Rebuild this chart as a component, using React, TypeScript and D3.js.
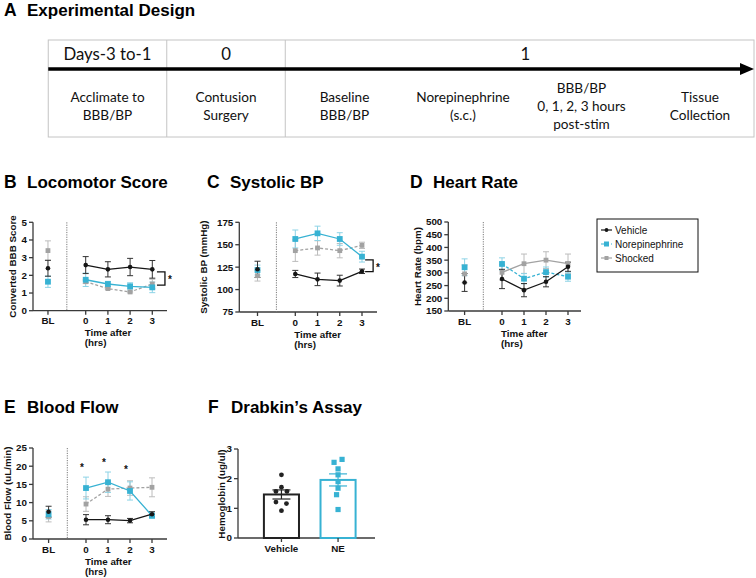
import React from 'react';
import * as d3 from 'd3';

const FONT = "'Liberation Sans', Arial, Helvetica, sans-serif";
const TL_FONT = "Lato, 'Open Sans', sans-serif";

const BLUE = '#37b2d3';
const BLUE_ERR = '#8dd3e6';
const GRAY = '#a2a2a2';
const GRAY_ERR = '#bcbcbc';
const BLACK = '#161616';
const AXIS = '#3a3a3a';

// ---------- Panel A: timeline ----------
const TL_HEADERS = ['Days-3 to-1', '0', '1'];
const TL_STEPS = [
  ['Acclimate to', 'BBB/BP'],
  ['Contusion', 'Surgery'],
  ['Baseline', 'BBB/BP'],
  ['Norepinephrine', '(s.c.)'],
  ['BBB/BP', '0, 1, 2, 3 hours', 'post-stim'],
  ['Tissue', 'Collection'],
];
// which steps each header column covers
const TL_HEADER_SPANS = [[0, 0], [1, 1], [2, 5]];

// ---------- Shared ----------
const SERIES_NAMES = ['Vehicle', 'Norepinephrine', 'Shocked'];
const TIME_LABELS = ['BL', '0', '1', '2', '3'];
const TIME_VALUES = [-1.7, 0, 1, 2, 3];

// ---------- Panel B: Locomotor score ----------
const LOCO_VEH = [2.40, 2.58, 2.34, 2.47, 2.34];
const LOCO_VEH_ERR = [0.45, 0.48, 0.43, 0.49, 0.50];
const LOCO_NE = [1.64, 1.75, 1.51, 1.38, 1.32];
const LOCO_NE_ERR = [0.32, 0.38, 0.15, 0.2, 0.3];
const LOCO_SHK = [3.40, 1.64, 1.25, 1.06, 1.51];
const LOCO_SHK_ERR = [0.55, 0.1, 0.05, 0.05, 0.27];
const LOCO_TICKS = [0, 1, 2, 3, 4, 5];
const LOCO_BRACKET = [2.2, 1.45];

// ---------- Panel C: Systolic BP ----------
const SBP_VEH = [122.6, 117.4, 111.4, 110.0, 120.4];
const SBP_VEH_ERR = [9, 4, 7, 6, 2.5];
const SBP_NE = [121.8, 156.4, 162.7, 156.4, 136.7];
const SBP_NE_ERR = [5.5, 10, 8, 7, 6];
const SBP_SHK = [115.5, 143.4, 146.4, 143.4, 149.3];
const SBP_SHK_ERR = [6, 12, 8, 8, 3.5];
const SBP_TICKS = [75, 100, 125, 150, 175];
const SBP_BRACKET = [133, 120];

// ---------- Panel D: Heart rate ----------
const HR_VEH = [262, 276, 232, 265, 324];
const HR_VEH_ERR = [35, 38, 26, 20, 18];
const HR_NE = [322, 335, 277, 303, 285];
const HR_NE_ERR = [33, 24, 20, 20, 18];
const HR_SHK = [296, 302, 336, 350, 336];
const HR_SHK_ERR = [35, 30, 38, 33, 38];
const HR_TICKS = [150, 200, 250, 300, 350, 400, 450, 500];

// ---------- Panel E: Blood flow ----------
const BF_VEH = [7.5, 5.3, 5.3, 5.05, 6.8];
const BF_VEH_ERR = [1.5, 1.4, 1.1, 0.6, 0.7];
const BF_NE = [6.8, 14.0, 15.6, 13.2, 6.4];
const BF_NE_ERR = [1.3, 3.0, 2.8, 2.5, 0.7];
const BF_SHK = [6.2, 9.6, 13.7, 14.0, 14.2];
const BF_SHK_ERR = [1.5, 2, 2, 2, 2.6];
const BF_TICKS = [0, 5, 10, 15, 20, 25];
const BF_STARS = [{ t: 0, v: 20 }, { t: 1, v: 21.3 }, { t: 2, v: 19.5 }];

// ---------- Panel F: Drabkin's assay ----------
const HB_GROUPS = ['Vehicle', 'NE'];
const HB_VEH = [2.13, 1.71, 1.57, 1.57, 1.21, 1.16, 0.92];
const HB_NE = [2.55, 2.65, 2.33, 2.13, 1.90, 1.68, 1.46, 0.96];
const HB_TICKS = [0, 1, 2, 3];
// horizontal jitter (layout only, px)
const HB_VEH_JITTER = [0, 0, -5.5, 5.5, -5.5, 5, 0];
const HB_NE_JITTER = [-4, 4, 0, 0, 0, 0, -1.5, 0];

type Series = {
  values: number[]; err: number[]; color: string; errColor: string;
  dash?: string; marker: 'circle' | 'square'; size: number;
};

function mkSeries(v: number[], e: number[], kind: 'veh' | 'ne' | 'shk', dashed: boolean): Series {
  if (kind === 'veh') return { values: v, err: e, color: BLACK, errColor: '#333', marker: 'circle', size: 4.6 };
  if (kind === 'ne') return { values: v, err: e, color: BLUE, errColor: BLUE_ERR, marker: 'square', size: 5.8, dash: dashed ? '3,2' : undefined };
  return { values: v, err: e, color: GRAY, errColor: GRAY_ERR, marker: 'square', size: 4.8, dash: dashed ? '3,2' : undefined };
}

function Marker({ kind, x, y, size, color }: any) {
  if (kind === 'circle') return <circle cx={x} cy={y} r={size / 2} fill={color} />;
  return <rect x={x - size / 2} y={y - size / 2} width={size} height={size} fill={color} />;
}

function PanelTitle({ x, y, letter, text }: any) {
  return (
    <g fontFamily={FONT} fontWeight="bold" fill="#000">
      <text x={x} y={y} fontSize={17.5}>{letter}</text>
      <text x={x + 23} y={y} fontSize={17}>{text}</text>
    </g>
  );
}

function YTitle({ x, y, text }: any) {
  return (
    <text transform={`translate(${x},${y}) rotate(-90)`} textAnchor="middle"
      fontFamily={FONT} fontWeight="bold" fontSize={9.8} fill="#111">{text}</text>
  );
}

function YAxis({ y, ticks, axisX }: any) {
  const [d0, d1] = y.domain();
  return (
    <g>
      <line x1={axisX} x2={axisX} y1={y(d0)} y2={y(d1)} stroke={AXIS} strokeWidth={1.3} />
      {ticks.map((t: number) => (
        <g key={t}>
          <line x1={axisX - 4} x2={axisX} y1={y(t)} y2={y(t)} stroke={AXIS} strokeWidth={1.3} />
          <text x={axisX - 6} y={y(t)} dy="0.35em" textAnchor="end" fontFamily={FONT}
            fontWeight="bold" fontSize={9.8} fill="#111">{t}</text>
        </g>
      ))}
    </g>
  );
}

function LinePanel({ p }: any) {
  const x = d3.scaleLinear().domain([0, 3]).range([p.x0, p.x3]);
  const y = d3.scaleLinear().domain(p.yDomain).range([p.yBottom, p.yTop]);
  const xs = TIME_VALUES.map((t) => x(t));
  const base = p.yBottom;
  const line = d3.line<number>().x((_, i) => xs[i + 1]).y((d) => y(d));
  const series: Series[] = p.series;
  return (
    <g>
      <PanelTitle x={p.titleX} y={p.titleY} letter={p.letter} text={p.title} />
      <YTitle x={p.yTitleX} y={(p.yBottom + p.yTop) / 2} text={p.yLabel} />
      <YAxis y={y} ticks={p.ticks} axisX={p.axisX} />
      <line x1={p.axisX} x2={p.axisEnd} y1={base} y2={base} stroke={AXIS} strokeWidth={1.3} />
      {xs.map((xx, i) => (
        <g key={i}>
          <line x1={xx} x2={xx} y1={base} y2={base + 4} stroke={AXIS} strokeWidth={1.3} />
          <text x={xx} y={base + 13.5} textAnchor="middle" fontFamily={FONT} fontWeight="bold"
            fontSize={9.8} fill="#111">{TIME_LABELS[i]}</text>
        </g>
      ))}
      <text x={x(0) - 1} y={base + 25.5} fontFamily={FONT} fontWeight="bold" fontSize={9.8} fill="#111">Time after</text>
      <text x={x(0) - 1} y={base + 35.5} fontFamily={FONT} fontWeight="bold" fontSize={9.8} fill="#111">(hrs)</text>
      <line x1={x(-0.85)} x2={x(-0.85)} y1={p.yTop} y2={base} stroke="#7a7a7a" strokeWidth={1} strokeDasharray="1.2,1.2" />
      {series.map((s, si) => (
        <g key={si}>
          {s.values.map((v, i) => (
            <g key={i} stroke={s.errColor} strokeWidth={1}>
              <line x1={xs[i]} x2={xs[i]} y1={y(v - s.err[i])} y2={y(v + s.err[i])} />
              <line x1={xs[i] - 3} x2={xs[i] + 3} y1={y(v - s.err[i])} y2={y(v - s.err[i])} />
              <line x1={xs[i] - 3} x2={xs[i] + 3} y1={y(v + s.err[i])} y2={y(v + s.err[i])} />
            </g>
          ))}
        </g>
      ))}
      {series.map((s, si) => (
        <g key={si}>
          <path d={line(s.values.slice(1)) || ''} fill="none" stroke={s.color} strokeWidth={1.3}
            strokeDasharray={s.dash} />
          {s.values.map((v, i) => (
            <Marker key={i} kind={s.marker} x={xs[i]} y={y(v)} size={s.size} color={s.color} />
          ))}
        </g>
      ))}
      {p.bracket && (
        <g stroke="#111" strokeWidth={1.3} fill="none">
          <path d={`M${x(p.bracketX) - 8},${y(p.bracket[0])}H${x(p.bracketX)}V${y(p.bracket[1])}H${x(p.bracketX) - 8}`} />
        </g>
      )}
      {p.bracket && (
        <text x={x(p.bracketX) + 3} y={(y(p.bracket[0]) + y(p.bracket[1])) / 2 + 5} fontFamily={FONT}
          fontWeight="bold" fontSize={10} fill="#111">*</text>
      )}
      {p.stars && p.stars.map((s: any, i: number) => (
        <text key={i} x={x(s.t) - 4} y={y(s.v) + 5} textAnchor="middle" fontFamily={FONT}
          fontWeight="bold" fontSize={10} fill="#111">*</text>
      ))}
    </g>
  );
}

function Timeline() {
  const sx = d3.scalePoint<number>().domain(d3.range(TL_STEPS.length)).range([107.5, 700]);
  const step = sx.step();
  const left = sx(0)! - step / 2;
  const right = 754;
  const top = 40, bottom = 137, arrowY = 69;
  const colEdge = (i: number) => (i === 0 ? left : sx(i)! - step / 2);
  const lineH = 18, midY = 110.8;
  return (
    <g>
      <text x={4} y={16} fontFamily={FONT} fontWeight="bold" fontSize={17.5}>A</text>
      <text x={27} y={16} fontFamily={FONT} fontWeight="bold" fontSize={17}>Experimental Design</text>
      <rect x={left} y={top} width={right - left} height={bottom - top} fill="none" stroke="#c4c4c4" strokeWidth={1} />
      {[1, 2].map((i) => (
        <line key={i} x1={colEdge(i)} x2={colEdge(i)} y1={top} y2={bottom} stroke="#c4c4c4" strokeWidth={1} />
      ))}
      <line x1={left} x2={742} y1={arrowY} y2={arrowY} stroke="#000" strokeWidth={3.6} />
      <path d={`M740,${arrowY - 6}L754,${arrowY}L740,${arrowY + 6}Z`} fill="#000" />
      {TL_HEADERS.map((h, i) => {
        const [a, b] = TL_HEADER_SPANS[i];
        const cx = (sx(a)! + sx(b)!) / 2;
        return (
          <text key={i} x={cx + (i === 2 ? 3 : 0)} y={60} textAnchor="middle" fontFamily={TL_FONT} fontSize={16.8} fill="#111">{h}</text>
        );
      })}
      {TL_STEPS.map((lines, i) => (
        <g key={i}>
          {lines.map((l, j) => (
            <text key={j} x={sx(i)} y={midY + (j - (lines.length - 1) / 2) * lineH} textAnchor="middle"
              fontFamily={TL_FONT} fontSize={13.6} fill="#111">{l}</text>
          ))}
        </g>
      ))}
    </g>
  );
}

function Legend() {
  const x0 = 597, y0 = 219, w = 101, h = 53;
  const items = [
    { name: SERIES_NAMES[0], s: mkSeries([], [], 'veh', false) },
    { name: SERIES_NAMES[1], s: mkSeries([], [], 'ne', true) },
    { name: SERIES_NAMES[2], s: mkSeries([], [], 'shk', false) },
  ];
  return (
    <g>
      <rect x={x0} y={y0} width={w} height={h} fill="#fff" stroke="#111" strokeWidth={1} />
      {items.map((it, i) => {
        const yy = y0 + 11 + i * 14;
        return (
          <g key={i}>
            <line x1={x0 + 4} x2={x0 + 15} y1={yy} y2={yy} stroke={it.s.color} strokeWidth={1.2} strokeDasharray={it.s.dash} />
            <Marker kind={it.s.marker} x={x0 + 9.5} y={yy} size={it.s.size - 0.8} color={it.s.color} />
            <text x={x0 + 18} y={yy} dy="0.35em" fontFamily={FONT} fontSize={10} fill="#111">{it.name}</text>
          </g>
        );
      })}
    </g>
  );
}

function BarPanel() {
  const axisX = 238, axisEnd = 375, yBottom = 538, yTop = 449;
  const x = d3.scaleBand<string>().domain(HB_GROUPS).range([axisX, 381.5]).paddingInner(0.345).paddingOuter(0.44);
  const y = d3.scaleLinear().domain([0, 3]).range([yBottom, yTop]);
  const groups = [
    { name: HB_GROUPS[0], vals: HB_VEH, jit: HB_VEH_JITTER, color: '#222', dot: 'circle' },
    { name: HB_GROUPS[1], vals: HB_NE, jit: HB_NE_JITTER, color: BLUE, dot: 'square' },
  ];
  return (
    <g>
      <PanelTitle x={208} y={413} letter="F" text="Drabkin’s Assay" />
      <YTitle x={225} y={494} text="Hemoglobin (ug/ul)" />
      <YAxis y={y} ticks={HB_TICKS} axisX={axisX} />
      <line x1={axisX} x2={axisEnd} y1={yBottom} y2={yBottom} stroke={AXIS} strokeWidth={1.3} />
      {groups.map((g, gi) => {
        const m = d3.mean(g.vals)!;
        const sem = d3.deviation(g.vals)! / Math.sqrt(g.vals.length);
        const x0 = x(g.name)!;
        const bw = x.bandwidth();
        const cx = x0 + bw / 2;
        return (
          <g key={gi}>
            <rect x={x0 + 1} y={y(m)} width={bw - 2} height={yBottom - y(m)} fill="#fff" stroke={gi === 0 ? '#222' : BLUE} strokeWidth={2} />
            <line x1={cx} x2={cx} y1={yBottom + 0} y2={yBottom + 4} stroke={AXIS} strokeWidth={1.3} />
            <text x={cx} y={yBottom + 13.5} textAnchor="middle" fontFamily={FONT} fontWeight="bold" fontSize={9.8} fill="#111">{g.name}</text>
            {g.vals.map((v, i) => (
              <Marker key={i} kind={g.dot} x={cx + g.jit[i]} y={y(v)} size={g.dot === 'circle' ? 4.8 : 5.2} color={g.color} />
            ))}
            <g stroke={gi === 0 ? '#222' : BLUE} strokeWidth={1.2}>
              <line x1={cx} x2={cx} y1={y(m - sem)} y2={y(m + sem)} />
              <line x1={cx - 9} x2={cx + 9} y1={y(m + sem)} y2={y(m + sem)} />
              <line x1={cx - 9} x2={cx + 9} y1={y(m - sem)} y2={y(m - sem)} />
            </g>
          </g>
        );
      })}
    </g>
  );
}

export default function App() {
  const panels = [
    {
      letter: 'B', title: 'Locomotor Score', titleX: 4, titleY: 188, yLabel: 'Converted BBB Score', yTitleX: 15.5,
      axisX: 33, axisEnd: 167, x0: 85.7, x3: 152.3, yDomain: [0, 5], yBottom: 310.7, yTop: 222.3, ticks: LOCO_TICKS,
      series: [mkSeries(LOCO_SHK, LOCO_SHK_ERR, 'shk', true), mkSeries(LOCO_NE, LOCO_NE_ERR, 'ne', false), mkSeries(LOCO_VEH, LOCO_VEH_ERR, 'veh', false)],
      bracket: LOCO_BRACKET, bracketX: 3.57,
    },
    {
      letter: 'C', title: 'Systolic BP', titleX: 207, titleY: 188, yLabel: 'Systolic BP (mmHg)', yTitleX: 206.5,
      axisX: 239.3, axisEnd: 377, x0: 295.3, x3: 362, yDomain: [75, 175], yBottom: 312, yTop: 222.3, ticks: SBP_TICKS,
      series: [mkSeries(SBP_SHK, SBP_SHK_ERR, 'shk', true), mkSeries(SBP_NE, SBP_NE_ERR, 'ne', false), mkSeries(SBP_VEH, SBP_VEH_ERR, 'veh', false)],
      bracket: SBP_BRACKET, bracketX: 3.5,
    },
    {
      letter: 'D', title: 'Heart Rate', titleX: 410, titleY: 188, yLabel: 'Heart Rate (bpm)', yTitleX: 420.5,
      axisX: 448.3, axisEnd: 581, x0: 502, x3: 568, yDomain: [150, 500], yBottom: 311, yTop: 222, ticks: HR_TICKS,
      series: [mkSeries(HR_SHK, HR_SHK_ERR, 'shk', false), mkSeries(HR_NE, HR_NE_ERR, 'ne', true), mkSeries(HR_VEH, HR_VEH_ERR, 'veh', false)],
    },
    {
      letter: 'E', title: 'Blood Flow', titleX: 4, titleY: 413, yLabel: 'Blood Flow (uL/min)', yTitleX: 10.5,
      axisX: 33, axisEnd: 167, x0: 86, x3: 152, yDomain: [0, 25], yBottom: 539, yTop: 448, ticks: BF_TICKS,
      series: [mkSeries(BF_SHK, BF_SHK_ERR, 'shk', true), mkSeries(BF_NE, BF_NE_ERR, 'ne', false), mkSeries(BF_VEH, BF_VEH_ERR, 'veh', false)],
      stars: BF_STARS,
    },
  ];
  return (
    <svg width={756} height={578} viewBox="0 0 756 578"
      style={{ position: 'absolute', left: 0, top: 0, display: 'block', background: '#fff' }}>
      <rect width={756} height={578} fill="#fff" />
      <Timeline />
      {panels.map((p, i) => <LinePanel key={i} p={p} />)}
      <Legend />
      <BarPanel />
    </svg>
  );
}
